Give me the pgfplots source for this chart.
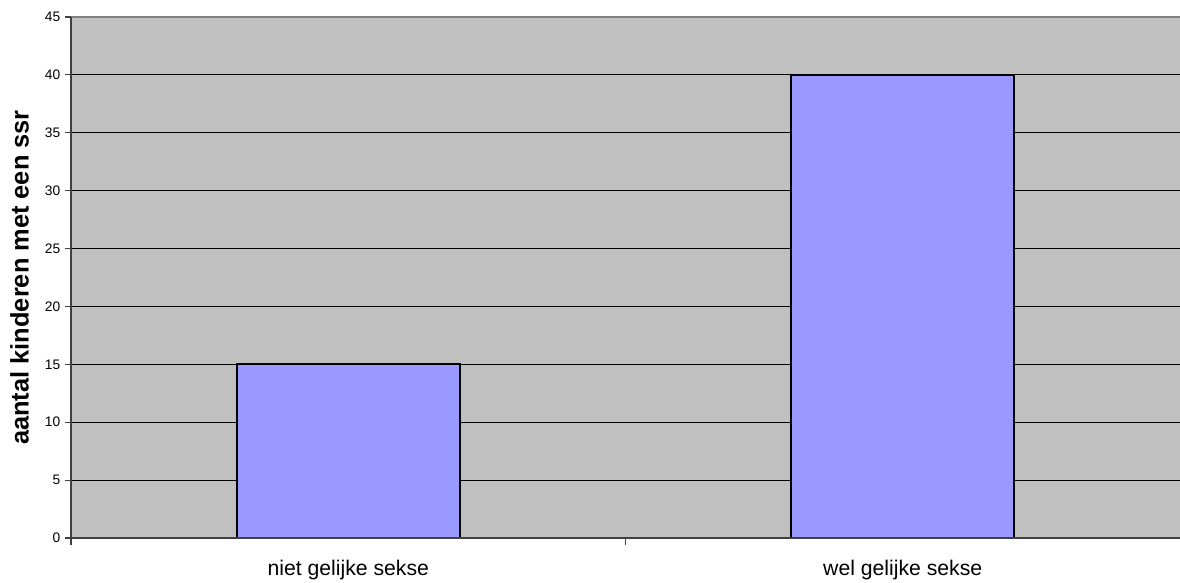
\documentclass[border=0pt]{standalone}
\usepackage{pgfplots}
\pgfplotsset{compat=1.18}
\usepackage{fontspec}
\setmainfont{Liberation Sans}
\definecolor{plotbg}{HTML}{C0C0C0}
\definecolor{barfill}{HTML}{9999FF}
\definecolor{axdark}{HTML}{404040}
\definecolor{axgray}{HTML}{808080}
\begin{document}
\begin{tikzpicture}
\useasboundingbox (-35.5pt,-22.5pt) rectangle (554.5pt,269pt);
\begin{axis}[
  at={(0,0)}, anchor=south west,
  scale only axis,
  width=554.5pt, height=260.5pt,
  xmin=-0.5, xmax=1.5,
  ymin=0, ymax=45,
  ytick={0,5,...,45},
  xtick={0,1},
  xticklabels={niet gelijke sekse, wel gelijke sekse},
  x tick style={draw=none},
  tick pos=left,
  tick align=outside,
  major tick length=3pt,
  y tick style={draw=axdark, line width=0.6pt},
  ymajorgrids,
  major grid style={black, line width=0.5pt},
  axis line style={draw=none},
  axis background/.style={fill=plotbg},
  /pgf/number format/assume math mode=true,
  yticklabel style={font=\fontsize{6.9}{8}\selectfont, inner sep=1pt, xshift=-1.2pt},
  xticklabel style={font=\fontsize{10.6}{12}\selectfont, yshift=-4.5pt},
  ylabel={aantal kinderen met een ssr},
  every axis y label/.style={at={(axis description cs:-0.0465,0.5)}, rotate=90, anchor=center, font=\fontsize{12.7}{14}\selectfont\bfseries},
  ybar,
  bar width=0.402,
  clip=false,
]
\addplot[fill=barfill, draw=black, line width=1pt] coordinates {(0,15) (1,40)};
\draw[axgray, line width=1pt] (rel axis cs:0,1) -- (rel axis cs:1,1);
\draw[axdark, line width=1pt] (rel axis cs:0,0) -- (rel axis cs:1,0);
\draw[axdark, line width=1pt] (rel axis cs:0,0) -- (rel axis cs:0,1);
\draw[axdark, line width=0.8pt] (rel axis cs:0,0) -- ++(0pt,-3.5pt);
\draw[axdark, line width=0.8pt] (rel axis cs:0.5,0) -- ++(0pt,-3.5pt);
\end{axis}
\end{tikzpicture}
\end{document}
